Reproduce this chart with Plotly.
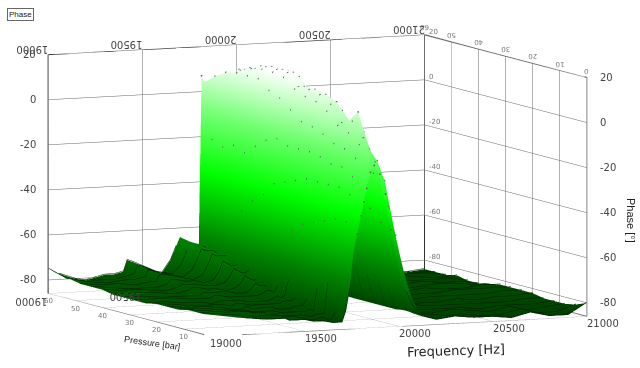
import plotly.graph_objects as go

freq = [19000,19100,19200,19300,19350,19400,19420,19450,19500,19550,19600,19650,19680,19700,
        19720,19740,19760,19780,19800,19815,19830,19850,19870,19900,
        19930,19960,20000,20040,20080,20120,20160,
        20200,20300,20400,20500,20600,20700,20800,20900,21000]
pressure = [60,56,52,48,44,40,36,32,28,24,20,16,12,8,4,0]
p60 = [-75,-80,-81,-79,-79,-78,-73,-74,-76,-78,-80,-74,-68,-64, -65,-66,-67,-68,-69,7,4,3,3,4, 5,5,3,-3,-20,-55,-78, -84,-85,-84,-85,-84,-85,-84,-85,-84]
p56 = [-76,-79,-80,-80,-79,-78,-74,-75,-77,-78,-79,-75,-69,-65, -66,-66,-67,-68,-66,-20,8,6,6,7, 8,7,3,-6,-25,-60,-80, -83,-84,-84,-83,-84,-84,-83,-84,-84]
p52 = [-77,-79,-80,-79,-79,-78,-75,-76,-77,-78,-79,-76,-71,-67, -68,-68,-68,-69,-64,-22,11,10,10,12, 12,10,4,-7,-28,-62,-80, -82,-83,-83,-84,-83,-84,-83,-83,-84]
p48 = [-78,-79,-79,-80,-79,-79,-76,-76,-77,-78,-79,-77,-72,-68, -69,-69,-69,-69,-55,-20,12,13,13,14, 13,11,5,-7,-28,-62,-81, -82,-83,-82,-83,-83,-82,-83,-84,-83]
p44 = [-78,-79,-80,-80,-80,-79,-77,-77,-78,-78,-79,-78,-74,-70, -71,-72,-72,-72,-48,-22,12,15,15,16, 15,12,5,-8,-30,-64,-81, -83,-82,-83,-83,-82,-83,-83,-83,-84]
p40 = [-78,-79,-79,-80,-80,-79,-78,-78,-78,-79,-79,-78,-75,-72, -73,-74,-74,-73,-42,-18,12,16,17,17, 16,13,6,-8,-30,-64,-82, -83,-83,-83,-82,-83,-82,-83,-83,-84]
p36 = [-79,-79,-79,-80,-80,-79,-78,-78,-79,-79,-80,-79,-77,-74, -75,-76,-76,-66,-38,-14,8,16,17,17, 16,13,6,-8,-30,-65,-82, -83,-83,-82,-83,-83,-82,-82,-83,-83]
p32 = [-79,-79,-80,-80,-80,-80,-79,-79,-79,-79,-80,-80,-78,-76, -77,-77,-78,-58,-32,-12,6,15,17,17, 15,11,3,-10,-31,-66,-82, -84,-83,-83,-83,-82,-83,-83,-82,-82]
p28 = [-79,-79,-79,-80,-80,-80,-79,-79,-80,-80,-80,-80,-79,-78, -78,-79,-76,-54,-30,-14,2,11,12,12, 10,6,-3,-13,-34,-68,-83, -84,-84,-83,-83,-83,-82,-82,-82,-82]
p24 = [-79,-79,-80,-80,-81,-80,-80,-80,-80,-81,-81,-81,-80,-79, -80,-79,-72,-50,-28,-14,-2,9,12,12, 9,4,-5,-15,-35,-68,-83, -84,-84,-84,-83,-83,-83,-83,-82,-82]
p20 = [-78,-79,-80,-80,-80,-81,-80,-80,-81,-81,-81,-81,-80,-80, -80,-79,-66,-46,-26,-14,-3,8,11,11, 7,2,-7,-17,-37,-70,-83, -84,-84,-84,-84,-83,-84,-83,-83,-82]
p16 = [-78,-79,-79,-80,-81,-81,-80,-81,-81,-81,-82,-82,-81,-81, -81,-78,-60,-44,-26,-15,-5,5,8,9, 5,0,-8,-19,-39,-72,-83, -84,-83,-84,-84,-84,-84,-84,-83,-83]
p12 = [-78,-78,-79,-80,-80,-81,-81,-81,-81,-82,-82,-82,-82,-81, -82,-72,-56,-42,-26,-17,-8,0,1,1, -1,-4,-10,-22,-44,-74,-83, -83,-84,-84,-84,-85,-84,-84,-84,-83]
p8 = [-77,-78,-79,-79,-80,-80,-81,-81,-82,-82,-82,-83,-82,-82, -82,-68,-54,-40,-26,-17,-9,-2,3,7, -2,-10,-15,-24,-46,-74,-82, -84,-84,-83,-84,-85,-83,-85,-84,-83]
p4 = [-77,-78,-79,-80,-80,-80,-80,-81,-81,-82,-83,-82,-83,-83, -80,-66,-52,-40,-28,-20,-12,-6,-3,-8, -14,-22,-34,-47,-62,-76,-83, -83,-84,-84,-85,-85,-83,-85,-85,-82]
p0 = [-77,-78,-79,-80,-80,-80,-81,-81,-81,-82,-82,-83,-83,-83, -78,-68,-52,-44,-36,-30,-24,-17,-14,-18, -27,-43,-60,-71,-78,-82,-83, -84,-83,-84,-84,-85,-83,-85,-85,-80]
phase = [p60,p56,p52,p48,p44,p40,p36,p32,p28,p24,p20,p16,p12,p8,p4,p0]

freq_ticks = [19000,19500,20000,20500,21000]
press_ticks = [60,50,40,30,20,10,0]
phase_ticks = [20,0,-20,-40,-60,-80]
F0, F1, P0, P1, Z0, Z1 = 19000, 21000, 0, 60, -86, 20

fig = go.Figure()
fig.add_trace(go.Surface(
    x=freq, y=pressure, z=phase, showscale=False, cmin=-86, cmax=17, hoverinfo="skip",
    colorscale=[[0,"rgb(0,60,0)"],[.204,"rgb(0,130,0)"],[.495,"rgb(0,255,0)"],
                [.738,"rgb(110,255,110)"],[.883,"rgb(190,255,190)"],[1,"rgb(255,255,255)"]],
    lighting=dict(ambient=1,diffuse=0,specular=0,roughness=1,fresnel=0),
))
def line(x,y,z,c,w):
    fig.add_trace(go.Scatter3d(x=x,y=y,z=z,mode="lines",line=dict(color=c,width=w),
                               hoverinfo="skip",showlegend=False))
# pressure rows drawn as dark lines on the low region, dots on the wall
for p,row in zip(pressure,phase):
    line(freq,[p]*len(freq),[v+0.3 if v<-66 else None for v in row],"rgb(0,25,0)",1)
    hi=[(f,v) for f,v in zip(freq,row) if v>=-50]
    fig.add_trace(go.Scatter3d(x=[a for a,b in hi],y=[p]*len(hi),z=[b for a,b in hi],mode="markers",
        marker=dict(size=1,color="#555"),hoverinfo="skip",showlegend=False))
# box edges
line([F0,F1],[P1,P1],[Z1,Z1],"#111",2)
line([F1,F1],[P1,P0],[Z1,Z1],"#666",2.5)
line([F0,F0],[P1,P1],[-67,Z1],"#888",3)
line([F0,F0],[P1,P1],[Z0,-67],"#000",2)
line([F1,F1],[P1,P1],[-60,Z1],"#777",2)
line([F1,F1],[P1,P1],[Z0,-60],"#000",2)
line([F1,F1],[P0,P0],[Z0,Z1],"#888",2)
line([F0,F1],[P0,P0],[Z0,Z0],"#888",2)
line([F0,F0],[P1,P0],[Z0,Z0],"#777",2)
line([F1,F1],[P1,P0],[Z0,Z0],"#777",2)

ann=[]
fnt=dict(family="DejaVu Sans",size=10,color="#444")
small=dict(family="DejaVu Sans",size=7,color="#777")
for z in phase_ticks:
    ann.append(dict(x=F0,y=P1,z=z,text=str(z),showarrow=False,font=fnt,xanchor="right",xshift=-10))
    ann.append(dict(x=F1,y=P0,z=z,text=str(z),showarrow=False,font=fnt,xanchor="left",xshift=11))
    ann.append(dict(x=F1,y=P1,z=z,text=str(z),showarrow=False,font=small,xanchor="left",xshift=3,yshift=3))
for f in freq_ticks:
    ann.append(dict(x=f,y=P1,z=Z1,text=str(f),showarrow=False,font=fnt,textangle=180,yshift=5,xshift=-16))
    ann.append(dict(x=f,y=P0,z=Z0,text=str(f),showarrow=False,font=fnt,yshift=-7,xshift=16))
for f in freq_ticks[:2]:
    ann.append(dict(x=f,y=P1,z=Z0,text=str(f),showarrow=False,font=fnt,textangle=180,yshift=-8,xshift=-17))
for p in press_ticks:
    ann.append(dict(x=F1,y=p,z=Z1,text=str(p),showarrow=False,font=small,textangle=180,yshift=7))
    if p>0:
        ann.append(dict(x=F0,y=p,z=Z0,text=str(p),showarrow=False,font=small,yshift=-8))
ax=dict(showticklabels=False,title="",showbackground=False,showgrid=True,gridcolor="#666",gridwidth=1,
        zeroline=False,showspikes=False,showline=False,ticks="")
R=1.3
fig.update_layout(
    width=640,height=368,margin=dict(l=0,r=0,t=0,b=0),paper_bgcolor="white",showlegend=False,
    scene=dict(domain=dict(x=[0,.992],y=[0,.992]),aspectmode="manual",aspectratio=dict(x=2.26,y=2.175,z=1.318),
        xaxis=dict(ax,range=[F0,F1],tickvals=freq_ticks),
        yaxis=dict(ax,range=[P0,P1],tickvals=press_ticks),
        zaxis=dict(ax,range=[Z0,Z1],tickvals=phase_ticks),
        camera=dict(projection=dict(type="orthographic"),up=dict(x=0,y=0,z=1),center=dict(x=0,y=0,z=0),
                    eye=dict(x=-.406*R,y=-.906*R,z=.118*R)),
        annotations=ann),
    annotations=[
        dict(x=7/640,y=1-8/368,xref="paper",yref="paper",xanchor="left",yanchor="top",text="Phase",showarrow=False,
             font=dict(family="Liberation Sans",size=8,color="#222"),bordercolor="#666",borderwidth=1,borderpad=1,bgcolor="white"),
        dict(x=456/640,y=1-350/368,xref="paper",yref="paper",xanchor="center",yanchor="middle",text="Frequency [Hz]",showarrow=False,textangle=-2,
             font=dict(family="DejaVu Sans",size=13,color="#222")),
        dict(x=152/640,y=1-343/368,xref="paper",yref="paper",xanchor="center",yanchor="middle",text="Pressure [bar]",showarrow=False,textangle=8,
             font=dict(family="Liberation Sans",size=9,color="#222")),
        dict(x=631/640,y=1-220/368,xref="paper",yref="paper",xanchor="center",yanchor="middle",text="Phase [°]",showarrow=False,textangle=90,
             font=dict(family="Liberation Sans",size=11,color="#222")),
    ])
fig.write_html("out.html",config=dict(displayModeBar=False),post_script="document.body.style.margin='0';document.body.style.overflow='hidden';")
